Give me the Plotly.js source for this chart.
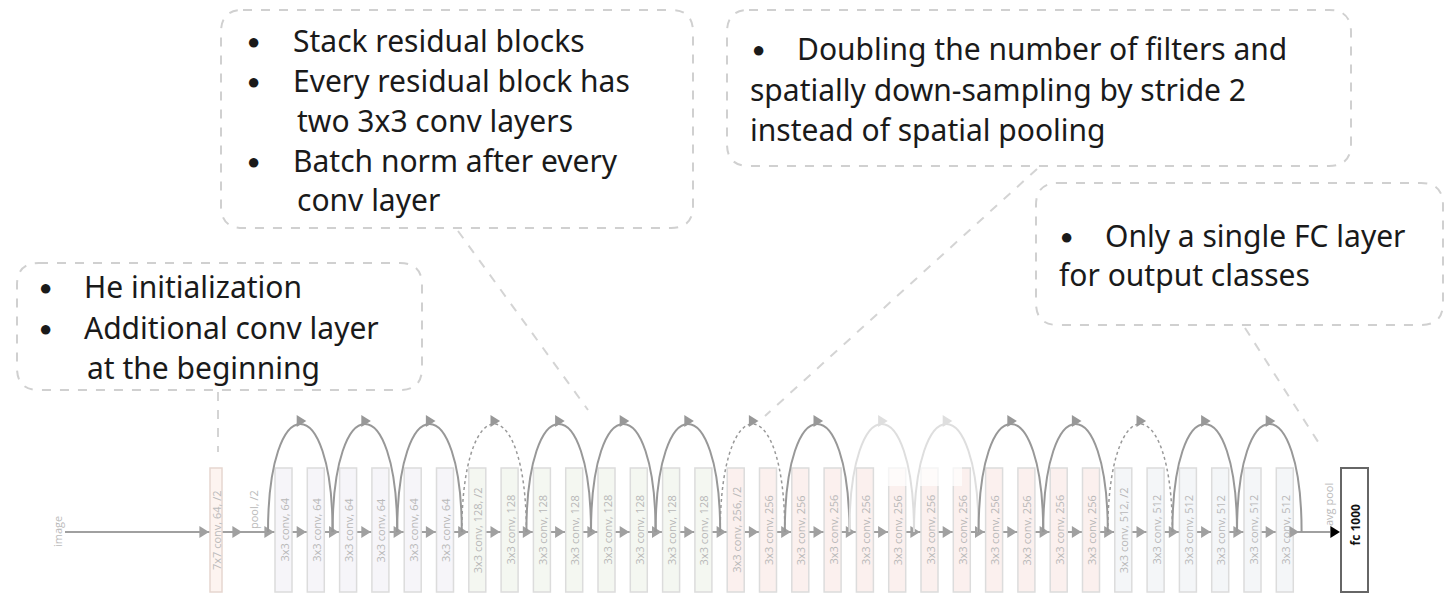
<!DOCTYPE html><html><head><meta charset="utf-8">
<script src="https://cdn.plot.ly/plotly-3.0.1.min.js"></script>
<style>body{margin:0;background:#fff}</style></head><body>
<div id="c" style="width:1453px;height:596px"></div>
<script>
const layerLabels = ["3x3 conv, 64","3x3 conv, 64","3x3 conv, 64","3x3 conv, 64","3x3 conv, 64","3x3 conv, 64",
"3x3 conv, 128, /2","3x3 conv, 128","3x3 conv, 128","3x3 conv, 128","3x3 conv, 128","3x3 conv, 128","3x3 conv, 128","3x3 conv, 128",
"3x3 conv, 256, /2","3x3 conv, 256","3x3 conv, 256","3x3 conv, 256","3x3 conv, 256","3x3 conv, 256","3x3 conv, 256","3x3 conv, 256","3x3 conv, 256","3x3 conv, 256","3x3 conv, 256","3x3 conv, 256",
"3x3 conv, 512, /2","3x3 conv, 512","3x3 conv, 512","3x3 conv, 512","3x3 conv, 512","3x3 conv, 512"];
const layerGroup = [0,0,0,0,0,0,1,1,1,1,1,1,1,1,2,2,2,2,2,2,2,2,2,2,2,2,3,3,3,3,3,3];
const groupFill = ["#f6f5f9","#f4f7f1","#fbf0ee","#f4f6f8"];
const arcStart = [0,2,4,6,8,10,12,14,16,18,20,22,24,26,28,30];
const arcDashed = [0,0,0,1,0,0,0,1,0,0,0,0,0,1,0,0];
const arcFaded  = [0,0,0,0,0,0,0,0,0,1,1,0,0,0,0,0];
const callouts = [
 {box:[17,263,422,390], lines:[["●",37,286],["He initialization",82,286],["●",37,327],["Additional conv layer",82,327],["at the beginning",85,367]], link:[218,392,218,452]},
 {box:[221,10,693,228], lines:[["●",245,40],["Stack residual blocks",291,40],["●",245,80],["Every residual block has",291,80],["two 3x3 conv layers",295,120],["●",245,160],["Batch norm after every",291,160],["conv layer",295,199]], link:[458,231,588,410]},
 {box:[727,10,1351,166], lines:[["●",750,48],["Doubling the number of filters and",795,48],["spatially down-sampling by stride 2",748,89],["instead of spatial pooling",748,129]], link:[1037,169,765,416]},
 {box:[1036,183,1443,325], lines:[["●",1058,235],["Only a single FC layer",1103,235],["for output classes",1057,274]], link:[1245,328,1322,448]}
];

const X0=275, DX=32.3, BW=17, YT=468, YB=592, YA=532, YP=418;
const shapes=[], ann=[];
const grey="#a0a0a0";
function rr(x0,y0,x1,y1,r){return `M${x0+r},${y0} L${x1-r},${y0} Q${x1},${y0} ${x1},${y0+r} L${x1},${y1-r} Q${x1},${y1} ${x1-r},${y1} L${x0+r},${y1} Q${x0},${y1} ${x0},${y1-r} L${x0},${y0+r} Q${x0},${y0} ${x0+r},${y0} Z`;}
function tri(x,y,s,c){shapes.push({type:'path',path:`M${x-s*1.6},${y-s} L${x},${y} L${x-s*1.6},${y+s} Z`,fillcolor:c,line:{width:0}});}
shapes.push({type:'line',x0:65,y0:YA,x1:1330,y1:YA,line:{color:grey,width:2}});
shapes.push({type:'rect',x0:210,x1:222,y0:YT,y1:YB,fillcolor:"#fdf4f0",line:{color:"#e6d6d0",width:1.5}});
ann.push({x:216,y:530,text:"7x7 conv, 64, /2",textangle:-90,showarrow:false,font:{size:11,color:"#bbb"}});
tri(209,YA,6,grey); tri(242,YA,6,grey);
ann.push({x:253,y:510,text:"pool, /2",textangle:-90,showarrow:false,font:{size:11,color:"#bbb"}});
ann.push({x:57,y:532,text:"image",textangle:-90,showarrow:false,font:{size:11,color:"#bbb"}});
const bx=i=>X0+DX*i;
layerLabels.forEach((l,i)=>{
  const x=bx(i);
  shapes.push({type:'rect',x0:x,x1:x+BW,y0:YT,y1:YB,fillcolor:groupFill[layerGroup[i]],line:{color:"#dcdcdc",width:1.5}});
  ann.push({x:x+BW/2,y:530,text:l,textangle:-90,showarrow:false,font:{size:11,color:"#b8b8b8"}});
  tri(x-1,YA,6,grey);
});
tri(1299,YA,6,grey);
shapes.push({type:'rect',x0:888,x1:962,y0:466,y1:486,fillcolor:"rgba(255,255,255,0.7)",line:{width:0}});
arcStart.forEach((s,k)=>{
  const xa=bx(s)-7, xb=bx(s+2)-7, xm=(xa+xb)/2;
  const col=arcFaded[k]?"#dedede":"#989898";
  shapes.push({type:'path',path:`M${xa},${YA} C${xa},${YP-30} ${xb},${YP-30} ${xb},${YA}`,line:{color:col,width:arcDashed[k]?1.5:2,dash:arcDashed[k]?'dot':'solid'}});
  tri(xm+6,YP+3,6,col);
});
ann.push({x:1328,y:505,text:"avg pool",textangle:-90,showarrow:false,font:{size:11,color:"#bbb"}});
shapes.push({type:'line',x0:1332,y0:YA,x1:1338,y1:YA,line:{color:"#000",width:2}});
tri(1340,YA,6,"#000");
shapes.push({type:'rect',x0:1341,x1:1368,y0:YT,y1:YB,fillcolor:"#fff",line:{color:"#666",width:2}});
ann.push({x:1354.5,y:525,text:"<b>fc 1000</b>",textangle:-90,showarrow:false,font:{size:12,color:"#111"}});
callouts.forEach(c=>{
  const [x0,y0,x1,y1]=c.box;
  shapes.push({type:'line',x0:c.link[0],y0:c.link[1],x1:c.link[2],y1:c.link[3],line:{color:"#d4d4d4",width:2,dash:'dash'}});
  shapes.push({type:'path',path:rr(x0,y0,x1,y1,22),fillcolor:"#fff",line:{color:"#d0d0d0",width:2,dash:'dash'}});
  c.lines.forEach(([t,x,y])=>{
    ann.push({x:x,y:y,text:t,xanchor:'left',yanchor:'middle',showarrow:false,font:{size:t==="●"?22:30,color:"#1a1a1a",family:"Noto Sans"}});
  });
});
Plotly.newPlot('c',[],{width:1453,height:596,margin:{l:0,r:0,t:0,b:0},paper_bgcolor:'#fff',plot_bgcolor:'#fff',
 xaxis:{range:[0,1453],visible:false,fixedrange:true},yaxis:{range:[596,0],visible:false,fixedrange:true},
 shapes:shapes,annotations:ann,showlegend:false},{staticPlot:true});
</script></body></html>
